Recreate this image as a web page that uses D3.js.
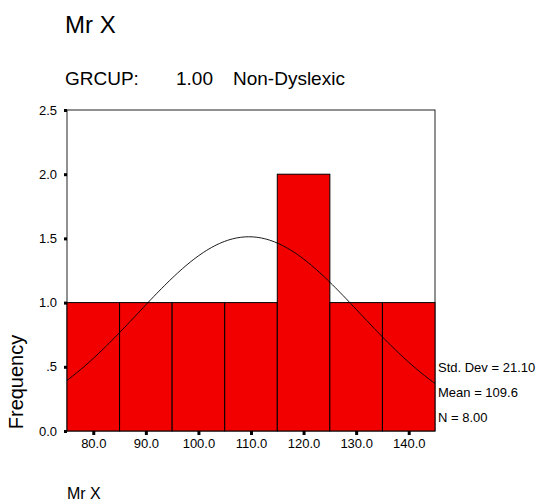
<!DOCTYPE html>
<html lang="en">
<head>
    <meta charset="UTF-8">
    <title>Mr X</title>
    <script src="https://d3js.org/d3.v7.min.js"></script>
    <style>
        body { margin: 0; background: #fff; }
        text { font-family: Arial, "Liberation Sans", sans-serif; fill: #000; }
    </style>
</head>
    <body>
        <script>
            // histogram bins (lower edges), width 10
            const binStarts = [75, 85, 95, 105, 115, 125, 135]
            const binWidth = 10
            const counts = [1, 1, 1, 1, 2, 1, 1]

            const xTicks = [80, 90, 100, 110, 120, 130, 140]
            const yTicks = [0, 0.5, 1, 1.5, 2, 2.5]
            const yTickLabels = ['0.0', '.5', '1.0', '1.5', '2.0', '2.5']

            const statLabels = ['Std. Dev', 'Mean', 'N']
            const statValues = ['21.10', '109.6', '8.00']
            const mean = 109.6
            const stdDev = 21.10
            const n = 8

            let width = 544
            let height = 504

            let margin = { top: 110, right: 109, bottom: 73, left: 67 }

            xScale = d3.scaleLinear()
                .domain([ 75, 145 ])
                .range([ margin.left, width - margin.right ])

            yScale = d3.scaleLinear()
                .domain([ 0, 2.5 ])
                .range([ height - margin.bottom, margin.top ])

            let svg = d3.select('body').append('svg').attr('width', width).attr('height', height)

            // titles
            svg.append('text').attr('x', 65).attr('y', 33).style('font-size', '24px').text('Mr X')
            svg.append('text').attr('x', 65).attr('y', 85).style('font-size', '19px').text('GRCUP:')
            svg.append('text').attr('x', 176).attr('y', 85).style('font-size', '19px').text('1.00')
            svg.append('text').attr('x', 233).attr('y', 85).style('font-size', '19px').text('Non-Dyslexic')

            // frame
            svg.append('rect')
                .attr('x', xScale(75))
                .attr('y', yScale(2.5))
                .attr('width', xScale(145) - xScale(75))
                .attr('height', yScale(0) - yScale(2.5))
                .style('fill', 'none')
                .style('stroke', '#222')
                .style('stroke-width', 1)

            // bars
            svg.append('g')
                .attr('class', 'bars')
                .selectAll('rect')
                .data(binStarts)
                .join('rect')
                .attr('x', d => xScale(d))
                .attr('y', (d, i) => yScale(counts[i]))
                .attr('width', d => xScale(d + binWidth) - xScale(d))
                .attr('height', (d, i) => yScale(0) - yScale(counts[i]))
                .style('fill', '#f20000')
                .style('stroke', '#000')
                .style('stroke-width', 1)

            // fitted normal curve
            const normal = x => n * binWidth / (stdDev * Math.sqrt(2 * Math.PI)) *
                Math.exp(-((x - mean) ** 2) / (2 * stdDev * stdDev))
            const curveX = d3.range(75, 145.01, 0.5)
            svg.append('path')
                .datum(curveX)
                .attr('d', d3.line().x(d => xScale(d)).y(d => yScale(normal(d))))
                .style('fill', 'none')
                .style('stroke', '#000')
                .style('stroke-width', 0.9)

            // axes
            xAxis = d3.axisBottom(xScale)
                .tickValues(xTicks)
                .tickSize(4)
                .tickPadding(4)
                .tickFormat(d3.format('.1f'))

            yAxis = d3.axisLeft(yScale)
                .tickValues(yTicks)
                .tickSize(3)
                .tickPadding(7)
                .tickFormat((d, i) => yTickLabels[i])

            let gx = svg.append('g')
                .attr('class', 'x-axis')
                .attr('transform', `translate(0,${ yScale(0) })`)
                .call(xAxis)

            let gy = svg.append('g')
                .attr('class', 'y-axis')
                .attr('transform', `translate(${ xScale(75) },0)`)
                .call(yAxis)

            gx.select('.domain').remove()
            gy.select('.domain').remove()
            gx.selectAll('.tick line').style('stroke', '#000').style('stroke-width', 3)
            gy.selectAll('.tick line').style('stroke', '#000').style('stroke-width', 3)
            gx.selectAll('.tick text').style('font-size', '13px').style('font-family', 'Arial, "Liberation Sans", sans-serif')
            gy.selectAll('.tick text').style('font-size', '13px').style('font-family', 'Arial, "Liberation Sans", sans-serif')

            // y label
            svg.append('text')
                .attr('transform', `translate(23,382) rotate(-90)`)
                .attr('text-anchor', 'middle')
                .style('font-size', '20px')
                .text('Frequency')

            // stats
            svg.append('g')
                .selectAll('text')
                .data(statLabels)
                .join('text')
                .attr('x', 438)
                .attr('y', (d, i) => 372 + i * 25)
                .style('font-size', '13px')
                .text((d, i) => `${ d } = ${ statValues[i] }`)

            // x label
            svg.append('text').attr('x', 67).attr('y', 499).style('font-size', '16px').text('Mr X')
        </script>
    </body>
</html>
